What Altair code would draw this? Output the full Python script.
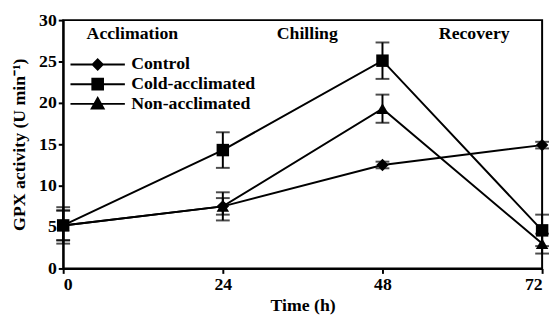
import altair as alt
import pandas as pd

times = [0, 24, 48, 72]
series_names = ["Control", "Cold-acclimated", "Non-acclimated"]
series_shapes = ["diamond", "square", "triangle-up"]
control = [5.2, 7.5, 12.5, 14.9]
control_err = [1.8, 1.0, 0.4, 0.4]
cold = [5.2, 14.3, 25.1, 4.6]
cold_err = [2.2, 2.15, 2.2, 1.9]
non = [5.2, 7.5, 19.3, 3.0]
non_err = [1.8, 1.7, 1.7, 1.2]

phase_labels = ["Acclimation", "Chilling", "Recovery"]
phase_x = [10.4, 36.7, 61.8]
phase_y = [27.7, 27.7, 27.7]

rows = []
for name, vals, errs in [("Control", control, control_err),
                         ("Cold-acclimated", cold, cold_err),
                         ("Non-acclimated", non, non_err)]:
    for t, v, e in zip(times, vals, errs):
        rows.append({"time": t, "value": v, "lo": v - e, "hi": v + e, "series": name})
df = pd.DataFrame(rows)
phases = pd.DataFrame({"label": phase_labels, "x": phase_x, "y": phase_y})

FONT = "Liberation Serif"
xs = alt.Scale(domain=[0, 72], nice=False, zero=True)
ys = alt.Scale(domain=[0, 30], nice=False)

x_enc = alt.X("time:Q", scale=xs, title="Time (h)",
              axis=alt.Axis(values=times, format="d", titlePadding=4))
y_enc = alt.Y("value:Q", scale=ys, title="GPX activity (U min\u207b\u00b9)",
              axis=alt.Axis(values=[0, 5, 10, 15, 20, 25, 30], titlePadding=10))

base = alt.Chart(df)

lines = base.mark_line(color="black", strokeWidth=2).encode(
    x=x_enc, y=y_enc, detail="series:N")

err = base.mark_rule(color="black", strokeWidth=2).encode(
    x="time:Q", y="lo:Q", y2="hi:Q")
cap_lo = base.mark_tick(color="black", orient="horizontal", size=14, thickness=2).encode(
    x="time:Q", y="lo:Q")
cap_hi = base.mark_tick(color="black", orient="horizontal", size=14, thickness=2).encode(
    x="time:Q", y="hi:Q")

point_layers = [
    base.transform_filter(alt.datum.series == name).mark_point(
        filled=True, color="black", opacity=1, size=160, shape=shp).encode(
        x="time:Q", y="value:Q")
    for name, shp in zip(series_names, series_shapes)
]

legend_paths = [
    "M-4.6,0L4.6,0M0,-0.85L0.85,0L0,0.85L-0.85,0Z",
    "M-4.6,0L4.6,0M-0.9,-0.9L0.9,-0.9L0.9,0.9L-0.9,0.9Z",
    "M-4.6,0L4.6,0M0,-1L1,0.8L-1,0.8Z",
]
leg = alt.Legend(title=None, orient="none", legendX=26, legendY=36,
                 symbolSize=144, symbolStrokeWidth=2, symbolOpacity=1,
                 labelFont=FONT, labelFontSize=18, labelFontWeight="bold",
                 labelColor="black", labelOffset=25, rowPadding=0,
                 padding=0)
legend_layer = base.mark_point(filled=False, fill="black", stroke="black", strokeWidth=2,
                               opacity=1).encode(
    x="time:Q", y="value:Q",
    shape=alt.Shape("series:N",
                    scale=alt.Scale(domain=series_names, range=legend_paths),
                    legend=leg),
).transform_filter(alt.datum.time < 0)

texts = alt.Chart(phases).mark_text(font=FONT, fontSize=18, fontWeight="bold",
                                     color="black", align="center", baseline="alphabetic").encode(
    x="x:Q", y="y:Q", text="label:N")

chart = alt.layer(lines, err, cap_lo, cap_hi, *point_layers, legend_layer, texts).properties(
    width=486, height=252,
    padding={"left": 56, "top": 10, "right": 8, "bottom": 49},
    autosize=alt.AutoSizeParams(type="none"),
).configure_view(
    stroke="black", strokeWidth=2
).configure_axis(
    grid=False, domainColor="black", domainWidth=2, tickColor="black", tickWidth=2,
    tickSize=5, labelFont=FONT, labelFontSize=18, labelFontWeight="bold",
    labelColor="black", labelPadding=2, titleFont=FONT, titleFontSize=18,
    titleFontWeight="bold", titleColor="black"
)

chart.save("out.html", embed_options={"renderer": "svg", "actions": False})
